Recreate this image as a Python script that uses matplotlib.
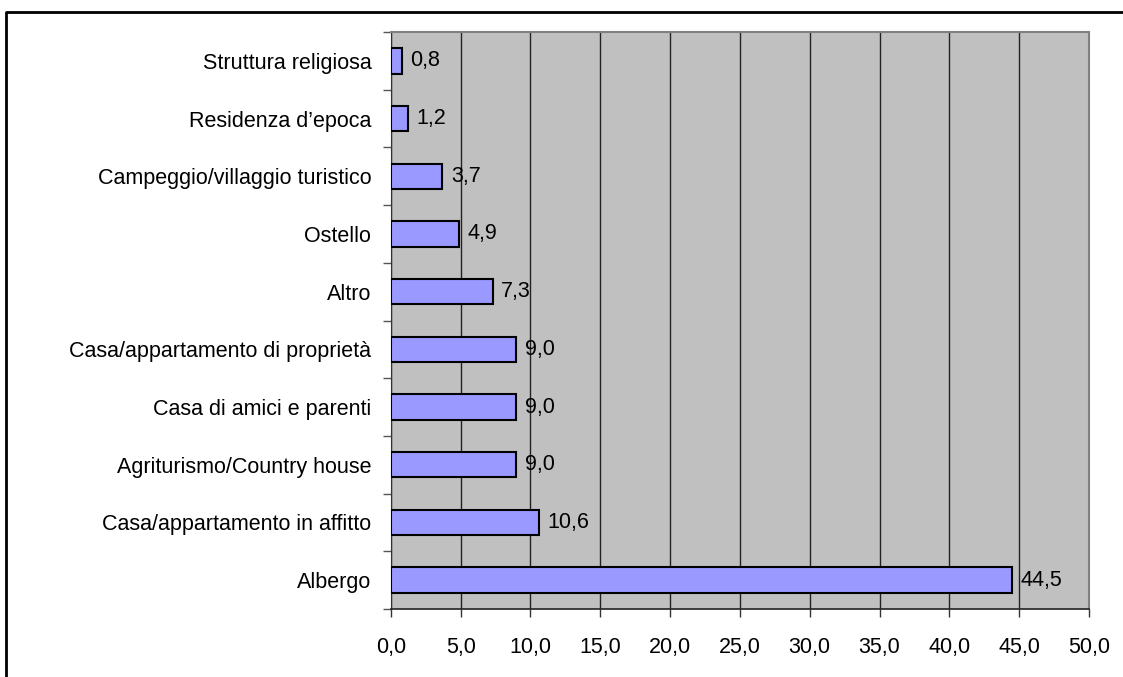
import matplotlib.pyplot as plt
from matplotlib.lines import Line2D

categories = [
    "Albergo",
    "Casa/appartamento in affitto",
    "Agriturismo/Country house",
    "Casa di amici e parenti",
    "Casa/appartamento di proprietà",
    "Altro",
    "Ostello",
    "Campeggio/villaggio turistico",
    "Residenza d’epoca",
    "Struttura religiosa",
]
values = [44.5, 10.6, 9.0, 9.0, 9.0, 7.3, 4.9, 3.7, 1.2, 0.8]
xticks = [0, 5, 10, 15, 20, 25, 30, 35, 40, 45, 50]

plt.rcParams['font.family'] = ['Liberation Sans', 'DejaVu Sans']
plt.rcParams['font.size'] = 15.5

fig = plt.figure(figsize=(11.23, 6.77), dpi=100)
ax = fig.add_axes([0.348, 0.1004, 0.6217, 0.8523])
ax.set_facecolor('#C0C0C0')

pos = list(range(len(categories)))
ax.barh(pos, values, height=0.44, color='#9999FF', edgecolor='black',
        linewidth=1.5, zorder=3)
for y, v in zip(pos, values):
    ax.annotate(f"{v:.1f}".replace('.', ','), (v, y), xytext=(6, 0),
                textcoords='offset points', va='center', ha='left', zorder=4)

ax.set_xlim(0, 50)
ax.set_ylim(-0.5, len(categories) - 0.5)
ax.set_xticks(xticks)
ax.set_xticklabels([f"{t:.1f}".replace('.', ',') for t in xticks])
ax.set_yticks(pos)
ax.set_yticklabels(categories)
ax.tick_params(axis='y', length=0, pad=14)
ax.tick_params(axis='x', length=6, width=1, color='#333333', pad=14)
# y tick marks between categories
ax.set_yticks([p - 0.5 for p in pos] + [len(categories) - 0.5], minor=True)
ax.tick_params(axis='y', which='minor', length=6, width=1, color='#555555')
ax.xaxis.grid(True, color='#222222', linewidth=1, zorder=1)
ax.set_axisbelow(True)

for s in ['top', 'right']:
    ax.spines[s].set_color('#808080')
    ax.spines[s].set_linewidth(1.5)
ax.spines['left'].set_color('#333333')
ax.spines['bottom'].set_color('#222222')
ax.spines['bottom'].set_linewidth(1.2)

# chart frame (left and top edges)
fig.add_artist(Line2D([6 / 1123, 6 / 1123, 1.0], [0.0, 1 - 12 / 677, 1 - 12 / 677],
                      transform=fig.transFigure, color='black', linewidth=2))

fig.savefig('out.png', dpi=100)
